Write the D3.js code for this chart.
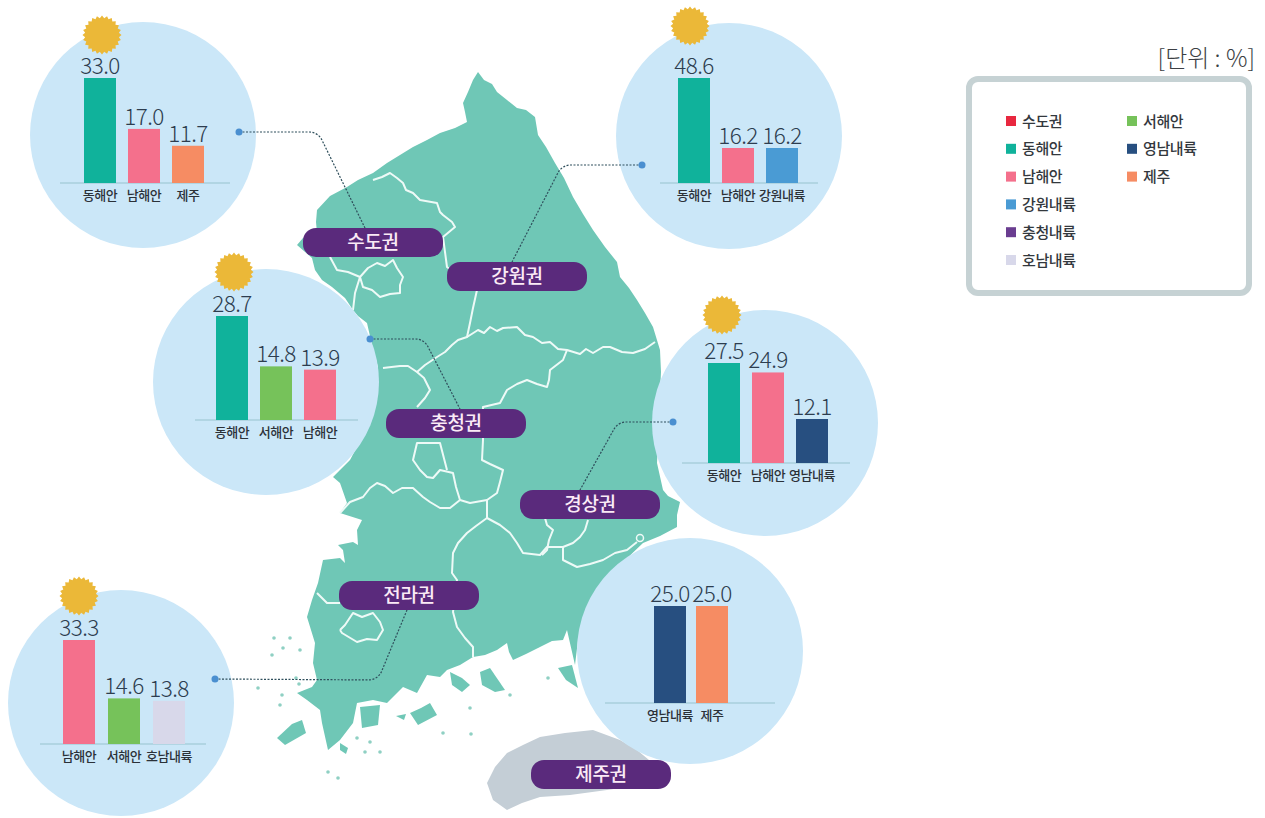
<!DOCTYPE html>
<html>

<head>
  <meta charset="utf-8">
  <script src="https://d3js.org/d3.v7.min.js"></script>
  <style>
    body {
      margin: 0;
      background: #fff;
    }

    text {
      font-family: "Noto Sans CJK KR", "Noto Sans", sans-serif;
    }
  </style>
</head>

<body>
  <script type="text/javascript">
    // values
    var regionNames = ["수도권", "강원권", "충청권", "경상권", "전라권", "제주권"];
    var sudogwonCats = ["동해안", "남해안", "제주"];
    var sudogwonVals = [33.0, 17.0, 11.7];
    var gangwonCats = ["동해안", "남해안", "강원내륙"];
    var gangwonVals = [48.6, 16.2, 16.2];
    var chungcheongCats = ["동해안", "서해안", "남해안"];
    var chungcheongVals = [28.7, 14.8, 13.9];
    var gyeongsangCats = ["동해안", "남해안", "영남내륙"];
    var gyeongsangVals = [27.5, 24.9, 12.1];
    var jeollaCats = ["남해안", "서해안", "호남내륙"];
    var jeollaVals = [33.3, 14.6, 13.8];
    var jejuCats = ["영남내륙", "제주"];
    var jejuVals = [25.0, 25.0];

    var legendCats = ["수도권", "동해안", "남해안", "강원내륙", "충청내륙", "호남내륙", "서해안", "영남내륙", "제주"];
    var legendColors = ["#e8283f", "#10b29b", "#f4708c", "#4a9bd4", "#6a3d90", "#d8d8ea", "#76c25a", "#274f80", "#f68c63"];
    var unitLabel = "[단위 : %]";

    var allCats = [sudogwonCats, gangwonCats, chungcheongCats, gyeongsangCats, jeollaCats, jejuCats];
    var allVals = [sudogwonVals, gangwonVals, chungcheongVals, gyeongsangVals, jeollaVals, jejuVals];

    // layout of the page, not data
    var panels = [
      { cx: 143, cy: 135, left: 84, step: 44, base: 183, top: 78, lineL: 60, lineR: 230, sun: [102, 35] },
      { cx: 729, cy: 136, left: 678, step: 44, base: 183, top: 78, lineL: 660, lineR: 818, sun: [690, 26] },
      { cx: 266, cy: 382, left: 216, step: 44, base: 420, top: 316, lineL: 195, lineR: 358, sun: [234, 272] },
      { cx: 765, cy: 423, left: 708, step: 44, base: 463, top: 363, lineL: 682, lineR: 850, sun: [722, 315] },
      { cx: 121, cy: 703, left: 63, step: 45, base: 744, top: 640, lineL: 40, lineR: 206, sun: [79, 596] },
      { cx: 690, cy: 651, left: 654, step: 42, base: 703, top: 606, lineL: 605, lineR: 775, sun: null }
    ];
    var pills = [[303, 228], [447, 262], [386, 409], [520, 490], [339, 581], [531, 760]];
    var leaders = [
      { dot: [239, 132], corner: [318, 132], end: [365, 228] },
      { dot: [642, 165], corner: [562, 165], end: [512, 262] },
      { dot: [370, 339], corner: [424, 339], end: [460, 409] },
      { dot: [673, 422], corner: [618, 422], end: [580, 490] },
      { dot: [215, 679], corner: [378, 680], end: [407, 610] }
    ];

    var mainland = [[478, 72], [484, 80], [492, 84], [497, 92], [507, 100], [517, 108], [526, 110], [535, 117], [538, 135],
      [546, 147], [555, 163], [564, 178], [573, 197], [583, 214], [593, 230], [605, 247], [617, 262], [620, 277], [629, 288],
      [637, 300], [645, 313], [653, 327], [660, 350], [661, 372], [660, 393], [659, 420], [657, 463], [663, 490], [668, 496],
      [680, 502], [677, 515], [677, 527], [660, 536], [643, 543], [620, 565], [600, 590], [585, 615], [578, 640], [575, 665],
      [567, 630], [563, 640], [552, 641], [540, 647], [526, 654], [513, 660], [509, 652], [507, 643], [497, 650], [485, 655],
      [473, 657], [460, 665], [447, 670], [440, 677], [427, 675], [417, 693], [403, 687], [387, 703], [373, 700],
      [357, 703], [353, 723], [340, 740], [328, 750], [322, 723], [320, 710], [307, 700], [297, 693], [312, 687],
      [317, 680], [313, 663], [315, 643], [307, 617], [312, 600], [318, 583], [323, 560], [340, 558], [345, 563], [343, 550],
      [338, 545], [353, 542], [358, 545], [357, 530], [362, 520], [340, 513], [347, 503], [340, 483], [333, 477], [340, 470],
      [350, 460], [358, 445], [363, 430], [372, 400], [378, 367], [372, 345], [367, 323], [358, 316], [353, 310],
      [345, 298], [332, 287], [322, 280], [315, 270], [312, 258], [297, 245], [303, 238], [317, 233], [316, 222], [317, 210],
      [330, 196], [347, 187], [358, 180], [373, 173], [387, 163], [400, 155], [413, 147], [427, 140], [440, 133], [455, 128],
      [467, 122], [465, 112], [463, 103], [468, 92], [473, 80]];
    var islands = [
      [[277, 738], [292, 724], [302, 720], [306, 733], [285, 745]],
      [[360, 707], [380, 705], [378, 725], [362, 728]],
      [[410, 713], [421, 708], [430, 703], [437, 715], [418, 725]],
      [[450, 672], [462, 678], [470, 685], [462, 692], [452, 685]],
      [[480, 672], [490, 668], [505, 690], [495, 692], [482, 685]],
      [[558, 668], [572, 665], [578, 688], [566, 680]],
      [[396, 716], [406, 714], [404, 720]],
      [[340, 743], [348, 748], [346, 754], [340, 750]]
    ];
    var islets = [[274, 638], [290, 638], [283, 648], [282, 695], [258, 688], [280, 705], [357, 738], [365, 752],
      [370, 742], [380, 752], [328, 772], [338, 778], [299, 684], [470, 708], [510, 695], [548, 678], [471, 734], [443, 733],
      [272, 655], [300, 650], [296, 678]];
    var jejuShape = [[487, 783], [495, 767], [507, 753], [523, 745], [540, 737], [565, 733], [593, 730], [620, 740], [637, 750],
      [655, 765], [670, 777], [640, 785], [607, 790], [570, 795], [540, 797], [522, 803], [507, 810], [493, 800]];

    var borders = [
      [[373, 180], [382, 177], [390, 173], [397, 178], [403, 183], [406, 190], [413, 193], [420, 200], [437, 203], [440, 212], [443, 215], [452, 222], [455, 227], [443, 237], [447, 267], [477, 290], [473, 308], [470, 323], [467, 337], [458, 340], [452, 345], [445, 352], [437, 357], [425, 365], [417, 372], [408, 366], [400, 366], [383, 368]],
      [[467, 337], [478, 330], [484, 333], [490, 327], [497, 331], [503, 328], [517, 327], [525, 335], [533, 337], [542, 343], [550, 342], [558, 349], [567, 350], [580, 354], [586, 349], [593, 353], [603, 347], [610, 347], [622, 352], [633, 353], [645, 349], [655, 342]],
      [[567, 350], [563, 360], [550, 370], [549, 380], [547, 387], [537, 384], [527, 380], [517, 384], [507, 390], [500, 403], [483, 407], [483, 440], [482, 460], [490, 464], [503, 470], [500, 482], [497, 493], [487, 500], [487, 518]],
      [[487, 500], [470, 503], [460, 500], [456, 487], [453, 473], [440, 470], [433, 478], [427, 477], [420, 470], [413, 460], [417, 443], [440, 443], [447, 470]],
      [[460, 500], [450, 508], [440, 508], [430, 502], [423, 497], [413, 488], [402, 488], [393, 493], [385, 486], [377, 483], [370, 488], [363, 497], [350, 502], [340, 513]],
      [[487, 518], [476, 526], [467, 533], [458, 543], [453, 553], [452, 573], [457, 580], [453, 612], [457, 627], [465, 638], [473, 647], [473, 657]],
      [[487, 518], [500, 525], [510, 533], [517, 543], [523, 553], [540, 555], [547, 547], [563, 547], [573, 543], [580, 537], [585, 530], [588, 520]],
      [[563, 547], [563, 560], [577, 567], [590, 564], [603, 560], [615, 553], [627, 550], [637, 542]],
      [[545, 518], [547, 525], [553, 530], [549, 540], [547, 550], [542, 555]],
      [[340, 630], [345, 625], [353, 613], [362, 617], [373, 613], [380, 622], [383, 630], [377, 640], [367, 639], [357, 642], [342, 633], [340, 630]],
      [[317, 593], [327, 603], [340, 603]],
      [[360, 277], [368, 268], [377, 263], [385, 266], [393, 260], [397, 268], [403, 277], [400, 285], [400, 293], [390, 294], [380, 297], [372, 290], [363, 287], [360, 277]],
      [[330, 257], [337, 270], [348, 272], [360, 277], [355, 293], [353, 310]],
      [[417, 372], [424, 378], [430, 390], [425, 398], [417, 407]]
    ];

    var catColor = d3.scaleOrdinal().domain(legendCats).range(legendColors);

    var svg = d3.select("body")
      .append("svg")
      .attr("width", 1265)
      .attr("height", 818);

    var closedLine = d3.line().curve(d3.curveLinearClosed);
    var openLine = d3.line();

    // map
    var map = svg.append("g").attr("class", "map");
    map.append("path").attr("d", closedLine(jejuShape)).attr("fill", "#c4ced6");
    map.append("path").attr("d", closedLine(mainland)).attr("fill", "#6fc7b6");
    map.selectAll(".island")
      .data(islands)
      .enter()
      .append("path")
      .attr("class", "island")
      .attr("d", closedLine)
      .attr("fill", "#6fc7b6");
    map.selectAll(".islet")
      .data(islets)
      .enter()
      .append("circle")
      .attr("class", "islet")
      .attr("cx", function(d) { return d[0]; })
      .attr("cy", function(d) { return d[1]; })
      .attr("r", 1.8)
      .attr("fill", "#8fd0c3");
    map.selectAll(".border")
      .data(borders)
      .enter()
      .append("path")
      .attr("class", "border")
      .attr("d", openLine)
      .attr("fill", "none")
      .attr("stroke", "#eefaf7")
      .attr("stroke-width", 2)
      .attr("stroke-linejoin", "round");
    map.append("circle")
      .attr("cx", 640)
      .attr("cy", 538)
      .attr("r", 3.5)
      .attr("fill", "none")
      .attr("stroke", "#eefaf7")
      .attr("stroke-width", 1.5);

    // jagged sun badge
    function sunPath(x, y) {
      var spikes = 24;
      var pts = d3.range(spikes * 2).map(function(i) {
        var r = i % 2 ? 17 : 19.5;
        var a = i * Math.PI / spikes;
        return [x + r * Math.cos(a), y + r * Math.sin(a)];
      });
      return closedLine(pts);
    }

    // one circle with its little bar chart per region
    panels.forEach(function(p, i) {
      var cats = allCats[i];
      var vals = allVals[i];
      var rows = cats.map(function(c, j) {
        return { cat: c, val: vals[j] };
      });

      var g = svg.append("g").attr("class", "panel");

      g.append("circle")
        .attr("cx", p.cx)
        .attr("cy", p.cy)
        .attr("r", 113)
        .attr("fill", "#cbe7f8");

      if (p.sun) {
        g.append("path")
          .attr("d", sunPath(p.sun[0], p.sun[1]))
          .attr("fill", "#ebb838");
      }

      var x = d3.scaleBand()
        .domain(cats)
        .range([p.left, p.left + p.step * cats.length - (p.step - 32)])
        .paddingInner((p.step - 32) / p.step)
        .paddingOuter(0);
      var y = d3.scaleLinear()
        .domain([0, d3.max(vals)])
        .range([p.base, p.top]);

      g.append("line")
        .attr("x1", p.lineL)
        .attr("x2", p.lineR)
        .attr("y1", p.base)
        .attr("y2", p.base)
        .attr("stroke", "#a9cfdc")
        .attr("stroke-width", 1.5);

      g.selectAll(".bar")
        .data(rows)
        .enter()
        .append("rect")
        .attr("class", "bar")
        .attr("x", function(d) { return x(d.cat); })
        .attr("y", function(d) { return y(d.val); })
        .attr("width", x.bandwidth())
        .attr("height", function(d) { return p.base - y(d.val); })
        .attr("fill", function(d) { return catColor(d.cat); });

      g.selectAll(".value")
        .data(rows)
        .enter()
        .append("text")
        .attr("class", "value")
        .attr("x", function(d) { return x(d.cat) + x.bandwidth() / 2; })
        .attr("y", function(d) { return y(d.val) - 4; })
        .attr("text-anchor", "middle")
        .attr("font-size", 22.5)
        .attr("font-weight", 300)
        .attr("letter-spacing", -0.5)
        .attr("fill", "#2d3d4f")
        .text(function(d) { return d.val.toFixed(1); });

      var axis = g.append("g")
        .attr("transform", "translate(0," + p.base + ")")
        .call(d3.axisBottom(x).tickSize(0).tickPadding(8));
      axis.select(".domain").remove();
      axis.selectAll("text")
        .attr("font-size", 13)
        .attr("font-family", '"Noto Sans CJK KR", sans-serif')
        .attr("font-weight", 500)
        .attr("letter-spacing", -0.5)
        .attr("fill", "#2b3138");
    });

    // dotted leader lines
    leaders.forEach(function(l) {
      var path = d3.path();
      path.moveTo(l.dot[0], l.dot[1]);
      path.arcTo(l.corner[0], l.corner[1], l.end[0], l.end[1], 14);
      path.lineTo(l.end[0], l.end[1]);
      svg.append("path")
        .attr("d", path.toString())
        .attr("fill", "none")
        .attr("stroke", "#2f4f5c")
        .attr("stroke-width", 1.2)
        .attr("stroke-dasharray", "2 1.5");
      svg.append("circle")
        .attr("cx", l.dot[0])
        .attr("cy", l.dot[1])
        .attr("r", 3.5)
        .attr("fill", "#4a8fd0");
    });

    // region name pills
    var pill = svg.selectAll(".pill")
      .data(regionNames)
      .enter()
      .append("g")
      .attr("class", "pill")
      .attr("transform", function(d, i) {
        return "translate(" + pills[i][0] + "," + pills[i][1] + ")";
      });
    pill.append("rect")
      .attr("width", 140)
      .attr("height", 29)
      .attr("rx", 13)
      .attr("fill", "#5a2a7c");
    pill.append("text")
      .attr("x", 70)
      .attr("y", 21)
      .attr("text-anchor", "middle")
      .attr("font-size", 19)
      .attr("font-weight", 500)
      .attr("letter-spacing", -0.3)
      .attr("fill", "#fbeaf6")
      .text(function(d) { return d; });

    // legend
    svg.append("text")
      .attr("x", 1255)
      .attr("y", 67)
      .attr("text-anchor", "end")
      .attr("font-size", 24)
      .attr("font-weight", 300)
      .attr("fill", "#3c3f44")
      .text(unitLabel);

    svg.append("rect")
      .attr("x", 969)
      .attr("y", 79)
      .attr("width", 280)
      .attr("height", 214)
      .attr("rx", 9)
      .attr("fill", "#fff")
      .attr("stroke", "#c6d2d4")
      .attr("stroke-width", 6);

    var rowY = d3.scalePoint().domain(d3.range(6)).range([121, 260]);
    var legendItem = svg.selectAll(".legend-item")
      .data(legendCats)
      .enter()
      .append("g")
      .attr("class", "legend-item")
      .attr("transform", function(d, i) {
        var col = i < 6 ? 1006 : 1127;
        var row = i < 6 ? i : i - 6;
        return "translate(" + col + "," + rowY(row) + ")";
      });
    legendItem.append("rect")
      .attr("y", -5)
      .attr("width", 10)
      .attr("height", 10)
      .attr("fill", function(d) { return catColor(d); });
    legendItem.append("text")
      .attr("x", 16)
      .attr("y", 5.5)
      .attr("font-size", 15)
      .attr("font-weight", 500)
      .attr("letter-spacing", -0.4)
      .attr("fill", "#33383d")
      .text(function(d) { return d; });
  </script>
</body>

</html>
